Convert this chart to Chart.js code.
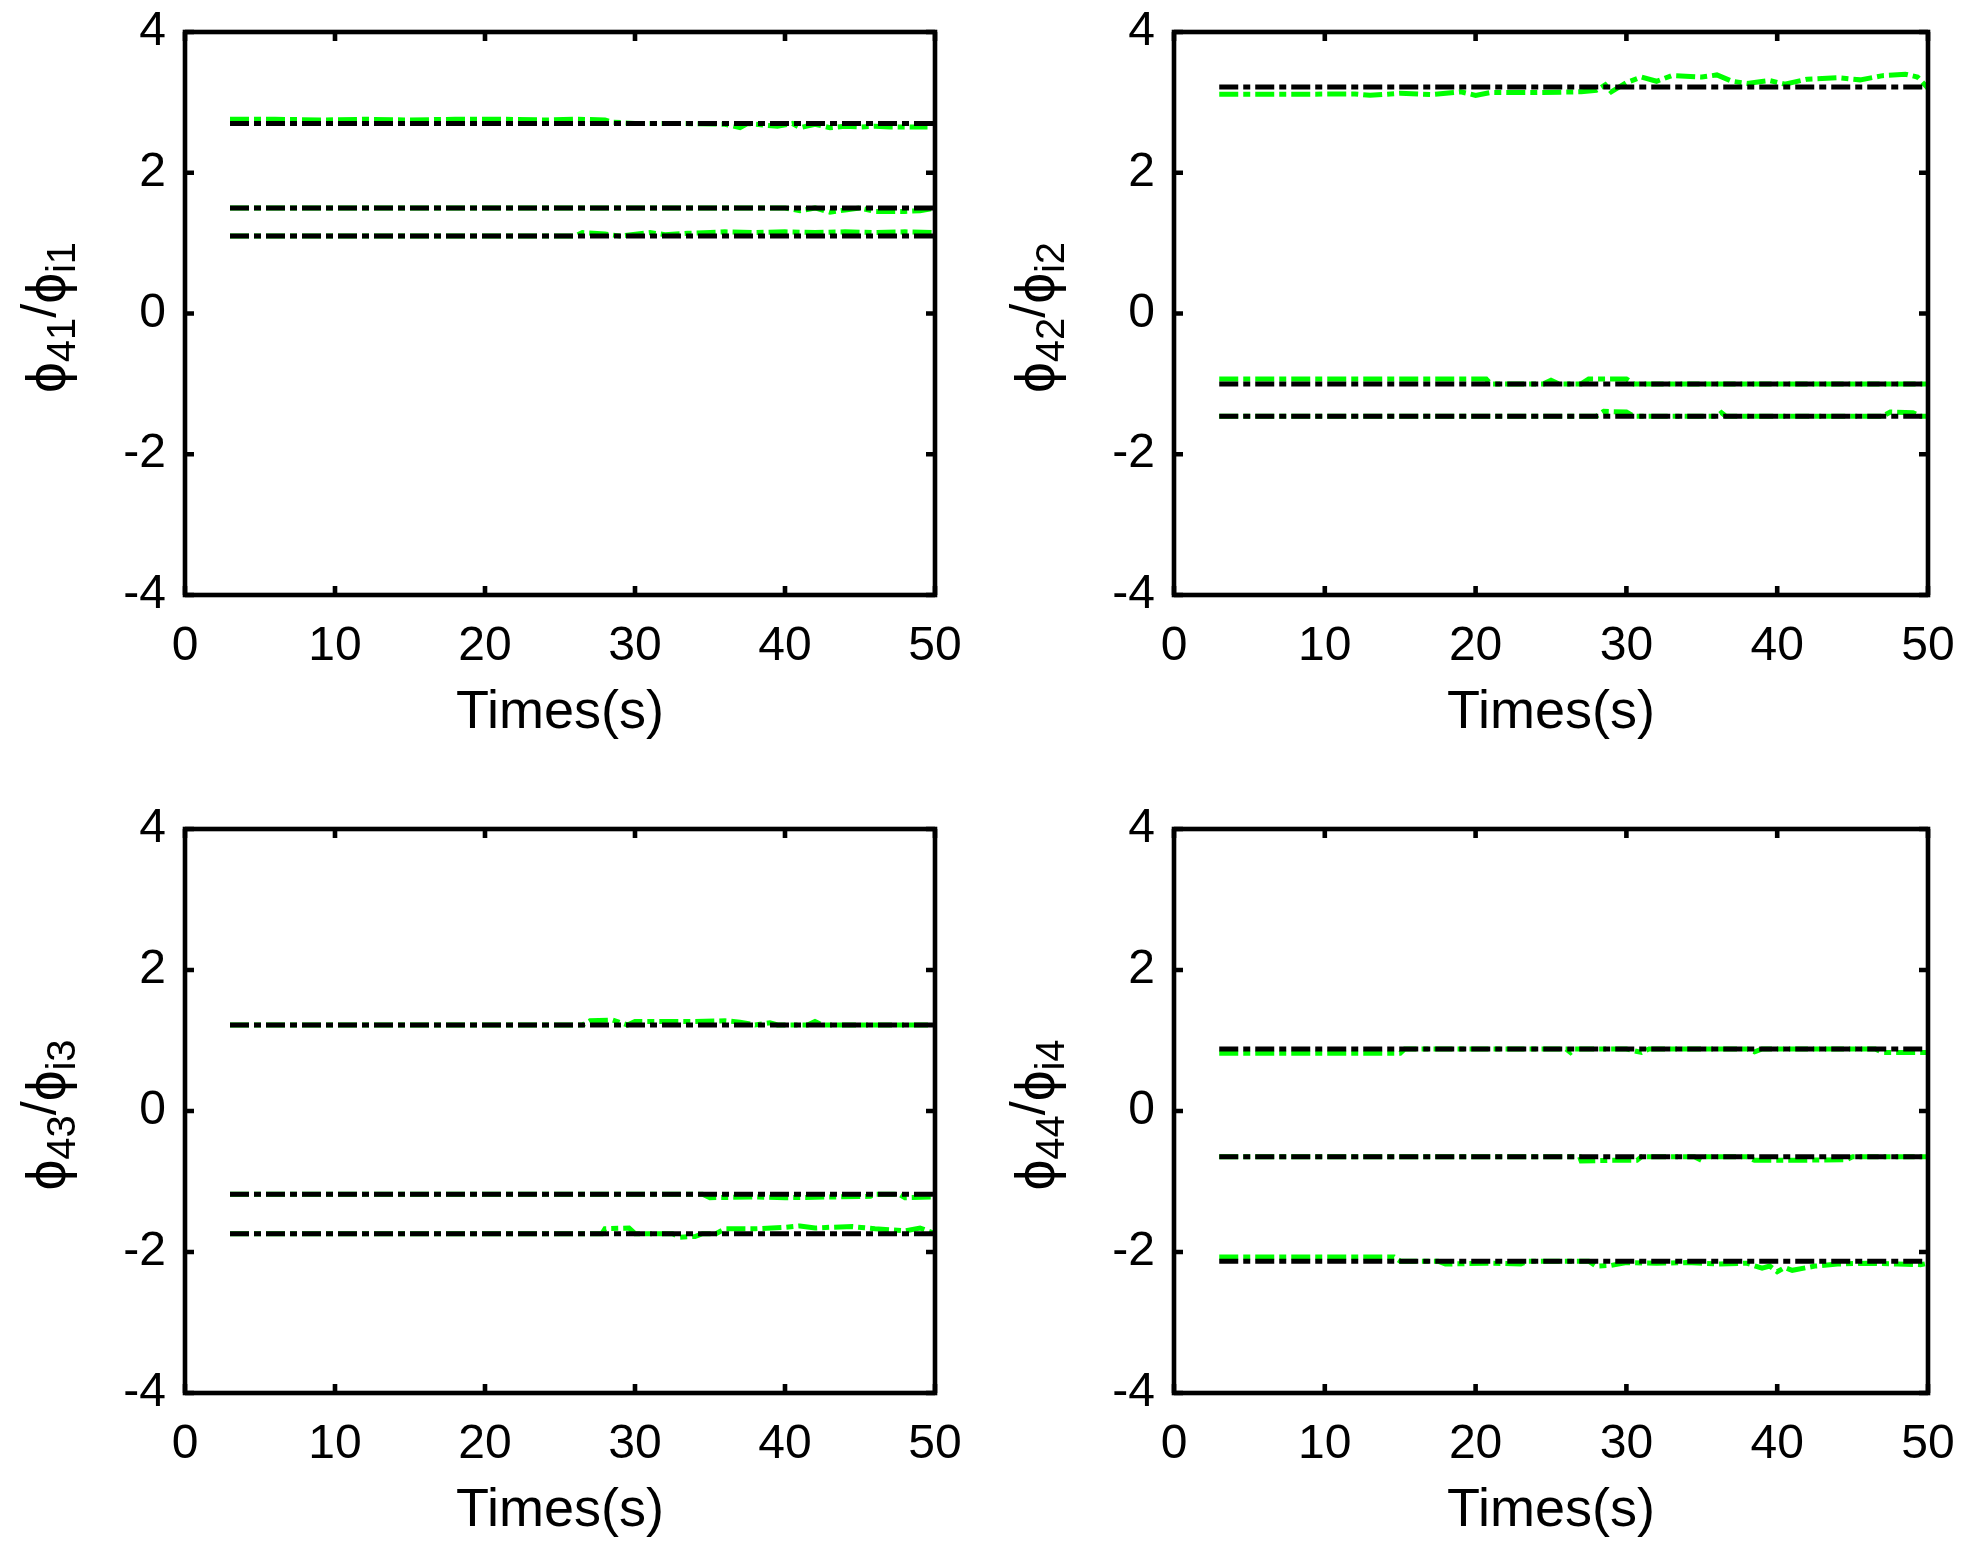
<!DOCTYPE html>
<html>
<head>
<meta charset="utf-8">
<title>phi4 / phi_i</title>
<script src="https://cdn.jsdelivr.net/npm/chart.js@4.4.1/dist/chart.umd.min.js"></script>
<style>
	html, body { margin: 0; padding: 0; background: #fff; width: 1972px; height: 1550px; overflow: hidden; position: relative; }
	canvas { position: absolute; }
</style>
</head>
<body>
<canvas id="p1"></canvas>
<canvas id="p2"></canvas>
<canvas id="p3"></canvas>
<canvas id="p4"></canvas>
<script>
// axis ticks
var xTicks = [0, 10, 20, 30, 40, 50];
var yTicks = [-4, -2, 0, 2, 4];

// reference mode shape values (black dash-dot), drawn from t=3 to t=50
var tRef = [3, 50];
var ref41 = [2.70, 1.50, 1.10];
var ref42 = [3.22, -1.00, -1.46];
var ref43 = [1.22, -1.18, -1.74];
var ref44 = [0.88, -0.65, -2.13];

// identified values (green), [time, value]
var est41a = [[3,2.76],[6,2.76],[9,2.75],[12,2.76],[15,2.75],[18,2.76],[21,2.76],[24,2.75],[26,2.76],[28,2.75],[28.5,2.72],[30,2.70],[33,2.70],[36,2.69],[37,2.64],[37.5,2.70],[39.5,2.66],[40.5,2.70],[41,2.64],[42,2.69],[43,2.64],[44,2.66],[45,2.65],[46,2.66],[47,2.65],[48,2.65],[49.5,2.65]];
var est41b = [[3,1.50],[40,1.50],[41,1.46],[42,1.50],[43,1.44],[44,1.47],[45,1.50],[46,1.45],[48,1.45],[49,1.46],[50,1.50]];
var est41c = [[3,1.10],[26,1.10],[26.5,1.15],[28,1.13],[29,1.10],[31,1.15],[32,1.12],[33.5,1.14],[35,1.15],[36,1.16],[38,1.15],[40,1.16],[42,1.15],[44,1.16],[46,1.15],[48,1.16],[50,1.15]];

var est42a = [[3,3.115],[8,3.115],[12,3.12],[13,3.10],[15,3.13],[17,3.11],[19,3.15],[20,3.10],[21,3.14],[24,3.14],[27,3.15],[28,3.17],[28.6,3.25],[29,3.15],[30,3.28],[31,3.36],[32,3.30],[33,3.38],[35,3.36],[36,3.39],[37,3.30],[38,3.27],[39.5,3.31],[40.5,3.26],[42,3.33],[44,3.35],[45.5,3.32],[47,3.38],[48.5,3.40],[49.3,3.36],[49.7,3.27],[50,3.20]];
var est42b = [[3,-0.93],[20.7,-0.93],[21,-1.00],[24.5,-1.00],[25,-0.95],[25.5,-1.00],[27,-1.00],[27.5,-0.93],[30,-0.93],[30.5,-1.00],[50,-1.00]];
var est42c = [[3,-1.46],[28,-1.46],[28.5,-1.39],[30,-1.40],[30.5,-1.46],[36,-1.46],[36.3,-1.41],[36.6,-1.46],[47,-1.46],[47.5,-1.40],[49,-1.41],[49.5,-1.46],[50,-1.46]];

var est43a = [[3,1.22],[26.5,1.22],[27,1.28],[28.5,1.29],[29.5,1.22],[30,1.27],[32,1.27],[34,1.27],[36,1.28],[37,1.26],[38,1.22],[39,1.25],[39.5,1.22],[41.5,1.22],[42,1.27],[42.5,1.22],[50,1.22]];
var est43b = [[3,-1.18],[34.5,-1.18],[35,-1.23],[38,-1.22],[40,-1.23],[43,-1.22],[45.7,-1.21],[46,-1.18],[47.6,-1.18],[48,-1.23],[50,-1.22]];
var est43c = [[3,-1.74],[27.8,-1.74],[28,-1.67],[29.6,-1.66],[30,-1.74],[32.5,-1.74],[33,-1.79],[34,-1.78],[34.5,-1.74],[35.4,-1.74],[36,-1.67],[38,-1.67],[40,-1.65],[41,-1.63],[42,-1.66],[43,-1.65],[44.5,-1.64],[46,-1.67],[48,-1.70],[49,-1.66],[50,-1.74]];

var est44a = [[3,0.82],[15,0.82],[15.3,0.88],[26,0.88],[26.3,0.83],[26.6,0.88],[30,0.88],[31,0.83],[31.5,0.88],[38,0.88],[38.5,0.84],[39,0.88],[46.5,0.88],[47,0.83],[50,0.83]];
var est44b = [[3,-0.65],[26.9,-0.65],[27,-0.71],[29,-0.70],[30.7,-0.70],[31,-0.65],[34.5,-0.65],[35,-0.70],[35.3,-0.65],[38,-0.65],[38.5,-0.70],[41,-0.70],[44.6,-0.69],[45,-0.65],[50,-0.65]];
var est44c = [[3,-2.07],[14.6,-2.07],[15,-2.13],[17.5,-2.13],[18,-2.17],[21,-2.16],[23,-2.17],[23.5,-2.13],[27.5,-2.13],[28,-2.20],[29,-2.19],[30,-2.15],[32,-2.16],[34,-2.15],[36,-2.17],[38,-2.16],[39,-2.23],[39.5,-2.20],[40,-2.28],[40.5,-2.22],[41,-2.26],[42.5,-2.20],[44,-2.17],[46,-2.16],[48,-2.17],[49.5,-2.18],[50,-2.16]];

var FONT = '"Liberation Sans", Arial, sans-serif';
var DASH = [19, 5, 7, 5];

// box round the plot with inward ticks on all four sides
var framePlugin = {
	id: 'frame',
	afterDraw: function(chart) {
		var a = chart.chartArea, ctx = chart.ctx;
		var sx = chart.scales.x, sy = chart.scales.y, len = 9;
		ctx.save();
		ctx.strokeStyle = '#000';
		ctx.lineWidth = 4.6;
		ctx.strokeRect(a.left, a.top, a.right - a.left, a.bottom - a.top);
		ctx.beginPath();
		xTicks.forEach(function(v) {
			var px = sx.getPixelForValue(v);
			ctx.moveTo(px, a.bottom); ctx.lineTo(px, a.bottom - len);
			ctx.moveTo(px, a.top); ctx.lineTo(px, a.top + len);
		});
		yTicks.forEach(function(v) {
			var py = sy.getPixelForValue(v);
			ctx.moveTo(a.left, py); ctx.lineTo(a.left + len, py);
			ctx.moveTo(a.right, py); ctx.lineTo(a.right - len, py);
		});
		ctx.stroke();
		ctx.restore();
	}
};

// rotated y title with subscripts: phi_{4k} / phi_{ik}
var yTitlePlugin = {
	id: 'yTitle',
	afterDraw: function(chart, args, opts) {
		var a = chart.chartArea, ctx = chart.ctx;
		var parts = [
			{ t: 'ϕ', size: 55, dy: 0 },
			{ t: opts.sub1, size: 40, dy: 10 },
			{ t: '/', size: 50, dy: -9 },
			{ t: 'ϕ', size: 55, dy: 0 },
			{ t: opts.sub2, size: 40, dy: 10 }
		];
		ctx.save();
		ctx.translate(a.left - 120, (a.top + a.bottom) / 2 + 4);
		ctx.rotate(-Math.PI / 2);
		ctx.fillStyle = '#000';
		ctx.textBaseline = 'alphabetic';
		var total = 0;
		parts.forEach(function(p) {
			ctx.font = p.size + 'px ' + FONT;
			p.w = ctx.measureText(p.t).width;
			total += p.w;
		});
		var x = -total / 2;
		parts.forEach(function(p) {
			ctx.font = p.size + 'px ' + FONT;
			ctx.fillText(p.t, x, p.dy);
			x += p.w;
		});
		ctx.restore();
	}
};

function toPoints(arr) {
	return arr.map(function(p) { return { x: p[0], y: p[1] }; });
}

function Panel(id, box, refs, ests, sub1, sub2) {
	var c = document.getElementById(id);
	c.width = box.w; c.height = box.h;
	c.style.left = box.cx + 'px'; c.style.top = box.cy + 'px';

	var padTop = box.t - box.cy;
	var padRight = box.cx + box.w - box.r;
	var yWidth = box.l - box.cx;
	var xHeight = box.cy + box.h - box.b;
	var titleSize = 54;
	var titlePad = xHeight - 118 - titleSize * 1.2 / 2;

	var datasets = [];
	refs.forEach(function(v) {
		datasets.push({
			data: tRef.map(function(t) { return { x: t, y: v }; }),
			borderColor: '#000000', borderWidth: 5, borderDash: DASH,
			pointRadius: 0, fill: false, tension: 0
		});
	});
	ests.forEach(function(e) {
		datasets.push({
			data: toPoints(e),
			borderColor: '#00ff00', borderWidth: 5, borderDash: DASH,
			pointRadius: 0, fill: false, tension: 0
		});
	});

	return new Chart(c, {
		type: 'line',
		data: { datasets: datasets },
		plugins: [framePlugin, yTitlePlugin],
		options: {
			responsive: false,
			animation: false,
			devicePixelRatio: 1,
			layout: { padding: { top: padTop, right: padRight, left: 0, bottom: 0 } },
			plugins: {
				legend: { display: false },
				tooltip: { enabled: false },
				yTitle: { sub1: sub1, sub2: sub2 }
			},
			scales: {
				x: {
					type: 'linear', min: 0, max: 50,
					grid: { display: false, drawTicks: false },
					border: { display: false },
					afterBuildTicks: function(s) { s.ticks = xTicks.map(function(v) { return { value: v }; }); },
					afterFit: function(s) { s.height = xHeight; },
					ticks: {
						color: '#000', padding: 23, maxRotation: 0, autoSkip: false,
						font: { family: FONT, size: 48 },
						callback: function(v) { return String(v); }
					},
					title: {
						display: true, text: 'Times(s)', color: '#000',
						font: { family: FONT, size: titleSize },
						padding: { top: 0, bottom: titlePad }
					}
				},
				y: {
					type: 'linear', min: -4, max: 4,
					grid: { display: false, drawTicks: false },
					border: { display: false },
					afterBuildTicks: function(s) { s.ticks = yTicks.map(function(v) { return { value: v }; }); },
					afterFit: function(s) { s.width = yWidth; },
					ticks: {
						color: '#000', padding: 19, autoSkip: false,
						font: { family: FONT, size: 48 },
						callback: function(v) { return String(v); }
					}
				}
			}
		}
	});
}

window.onload = function() {
	// top row canvases start above the page and right column runs past it,
	// so the tick-label padding never squeezes the plot boxes
	Panel('p1', { cx: 0,   cy: -40, w: 986,  h: 815, l: 185,  t: 32,  r: 935,  b: 595 },  ref41, [est41a, est41b, est41c], '41', 'i1');
	Panel('p2', { cx: 986, cy: -40, w: 1010, h: 815, l: 1174, t: 32,  r: 1928, b: 595 },  ref42, [est42a, est42b, est42c], '42', 'i2');
	Panel('p3', { cx: 0,   cy: 775, w: 986,  h: 775, l: 185,  t: 829, r: 935,  b: 1393 }, ref43, [est43a, est43b, est43c], '43', 'i3');
	Panel('p4', { cx: 986, cy: 775, w: 1010, h: 775, l: 1174, t: 829, r: 1928, b: 1393 }, ref44, [est44a, est44b, est44c], '44', 'i4');
};
</script>
</body>
</html>
